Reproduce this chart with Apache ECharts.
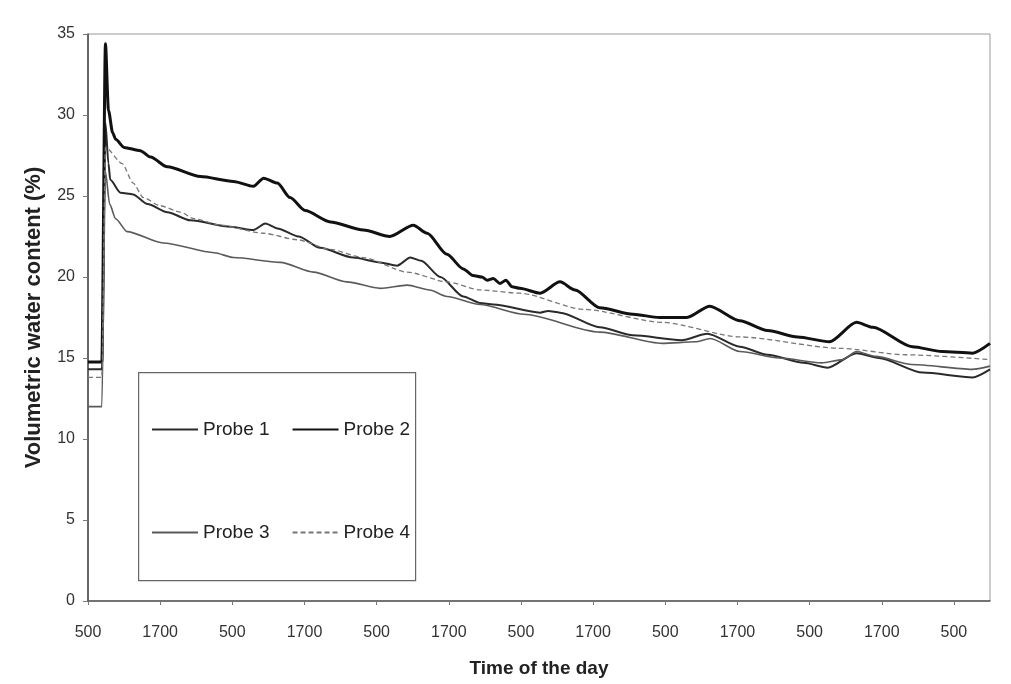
<!DOCTYPE html>
<html>
<head>
<meta charset="utf-8">
<script src="https://cdn.jsdelivr.net/npm/echarts@6/dist/echarts.min.js"></script>
<style>
html,body{margin:0;padding:0;background:#fff;}
#chart{width:1011px;height:684px;}
</style>
</head>
<body>
<div id="chart"></div>
<script>
// Hours elapsed since 05:00 on the first day
const seriesNames = ['Probe 1', 'Probe 2', 'Probe 3', 'Probe 4'];
const tickLabels = ['500', '1700'];

const probe1 = [[0,14.3],[2.3,14.3],[2.9,29.5],[3.4,27.0],[3.7,26.0],[5.4,25.2],[7.5,25.1],[9.9,24.5],[13.2,24.0],[17.0,23.5],[23.7,23.1],[27.5,22.9],[29.5,23.3],[31.5,23.0],[35.0,22.5],[38.6,21.8],[44.1,21.2],[48.6,20.9],[51.4,20.7],[53.6,21.2],[55.4,21.0],[58.6,20.0],[62.4,18.8],[65.2,18.4],[67.4,18.3],[75.2,17.8],[76.5,17.9],[78.5,17.8],[85.1,16.9],[90.6,16.4],[98.7,16.1],[103.0,16.5],[108.4,15.7],[113.0,15.2],[119.0,14.7],[123.0,14.4],[127.8,15.3],[131.5,15.0],[138.8,14.1],[147.1,13.8],[150,14.3]];

const probe2 = [[0,14.75],[2.3,14.75],[2.9,34.4],[3.4,30.3],[4.1,28.9],[4.6,28.5],[6.0,28.0],[8.7,27.8],[10.4,27.4],[13.2,26.8],[18.7,26.2],[24.2,25.9],[27.5,25.6],[29.2,26.1],[31.5,25.8],[33.6,24.9],[36.1,24.1],[40.3,23.4],[45.8,22.9],[50.2,22.5],[54.1,23.2],[56.4,22.7],[59.7,21.4],[62.4,20.5],[64.0,20.1],[65.5,20.0],[66.4,19.8],[67.4,19.9],[68.5,19.6],[69.5,19.8],[70.5,19.4],[71.8,19.3],[75.2,19.0],[78.5,19.7],[81.0,19.2],[85.1,18.1],[90.6,17.7],[95.0,17.5],[99.6,17.5],[103.4,18.2],[108.4,17.3],[113.0,16.7],[118.0,16.3],[123.3,16.0],[127.8,17.2],[130.5,16.9],[137.1,15.7],[142.0,15.4],[147.1,15.3],[150,15.9]];

const probe3 = [[0,12.0],[2.3,12.0],[2.9,26.5],[3.6,24.5],[4.6,23.6],[6.5,22.8],[12.5,22.1],[21.0,21.5],[24.2,21.2],[32.0,20.9],[37.5,20.3],[43.0,19.7],[48.6,19.3],[53.1,19.5],[56.8,19.2],[59.7,18.8],[65.2,18.3],[72.5,17.7],[85.1,16.6],[95.5,15.9],[101.0,16.0],[103.5,16.2],[108.4,15.4],[115.0,15.0],[122.0,14.7],[125.5,14.9],[127.8,15.4],[131.0,15.1],[137.0,14.6],[147.0,14.3],[150,14.5]];

const probe4 = [[0,13.8],[2.3,13.8],[2.9,28.0],[5.7,27.0],[7.5,25.8],[9.2,24.9],[12.0,24.4],[15.4,24.0],[17.6,23.6],[22.0,23.2],[29.2,22.7],[34.8,22.3],[40.3,21.7],[45.8,21.2],[53.1,20.3],[59.7,19.7],[65.2,19.2],[71.8,19.0],[82.5,18.0],[95.5,17.2],[108.4,16.3],[125.0,15.6],[136.0,15.2],[150,14.9]];

const chart = echarts.init(document.getElementById('chart'));
const font = 'Liberation Sans, Arial, sans-serif';

const lineSeries = (name, data, color, width, type) => ({
  name: name, type: 'line', data: data, symbol: 'none', showSymbol: false,
  smooth: 0.25, smoothMonotone: 'x',
  lineStyle: {color: color, width: width, type: type || 'solid'},
  itemStyle: {color: color}
});

const legendBase = {
  left: 146, itemWidth: 46, itemHeight: 14, itemGap: 22, z: 10,
  itemStyle: {opacity: 0},
  textStyle: {fontFamily: font, fontSize: 19, color: '#222'}
};

chart.setOption({
  animation: false,
  backgroundColor: '#ffffff',
  grid: {left: 88, right: 21, top: 34, bottom: 83, show: true, borderColor: '#9a9a9a', borderWidth: 1},
  xAxis: {
    type: 'value', min: 0, max: 150, interval: 12,
    name: 'Time of the day', nameLocation: 'middle', nameGap: 58,
    nameTextStyle: {fontFamily: font, fontSize: 19, fontWeight: 'bold', color: '#222'},
    axisLine: {lineStyle: {color: '#555', width: 1.5}},
    axisTick: {show: true, length: 4, lineStyle: {color: '#777'}},
    splitLine: {show: false},
    axisLabel: {
      fontFamily: font, fontSize: 16, color: '#333', margin: 24, showMaxLabel: false,
      formatter: function (v) { return (v % 12 === 0) ? tickLabels[(v / 12) % 2] : ''; }
    }
  },
  yAxis: {
    type: 'value', min: 0, max: 35, interval: 5,
    name: 'Volumetric water content (%)', nameLocation: 'middle', nameGap: 43,
    nameTextStyle: {fontFamily: font, fontSize: 22, fontWeight: 'bold', color: '#222'},
    axisLine: {show: true, lineStyle: {color: '#444', width: 1.5}},
    axisTick: {show: true, length: 5, lineStyle: {color: '#777'}},
    splitLine: {show: false},
    axisLabel: {fontFamily: font, fontSize: 16, color: '#333', margin: 13}
  },
  graphic: [{
    type: 'rect', left: 138, top: 372, z: 5,
    shape: {width: 277, height: 208},
    style: {fill: '#ffffff', stroke: '#666', lineWidth: 1.2}
  }],
  legend: [
    Object.assign({data: ['Probe 1', 'Probe 2'], top: 415}, legendBase),
    Object.assign({data: ['Probe 3', 'Probe 4'], top: 518}, legendBase)
  ],
  series: [
    lineSeries(seriesNames[0], probe1, '#2a2a2a', 2),
    lineSeries(seriesNames[1], probe2, '#111111', 3),
    lineSeries(seriesNames[2], probe3, '#5a5a5a', 1.6),
    lineSeries(seriesNames[3], probe4, '#777777', 1.3, [5, 3])
  ]
});
</script>
</body>
</html>
